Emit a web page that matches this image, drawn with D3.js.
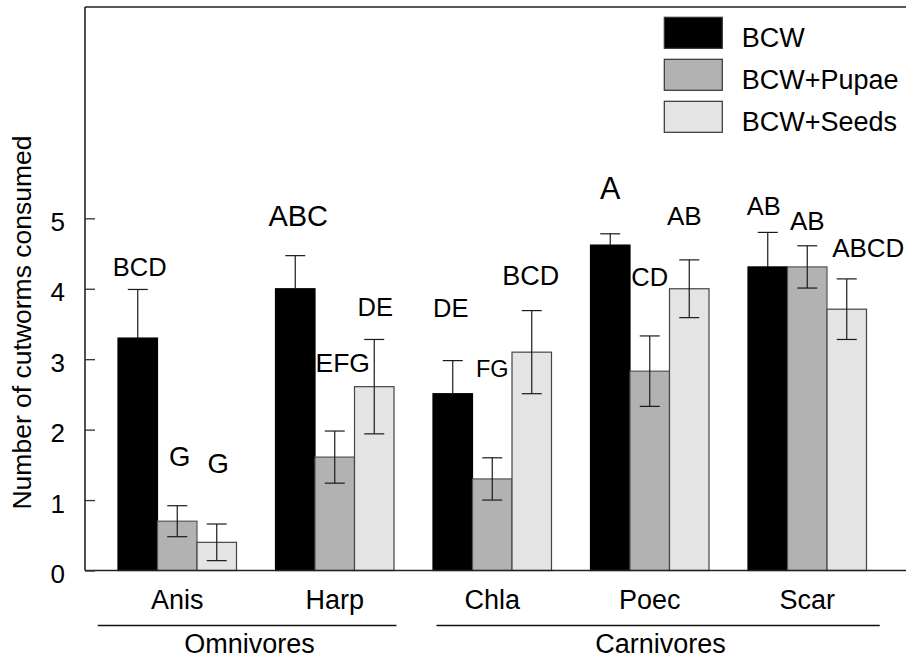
<!DOCTYPE html>
<html>
<head>
<meta charset="utf-8">
<script src="https://cdn.jsdelivr.net/npm/d3@7"></script>
<style>
  html, body { margin: 0; padding: 0; background: #fff; }
  svg text { font-family: "Liberation Sans", Arial, sans-serif; fill: #000; }
</style>
</head>
<body>
<svg id="chart" width="906" height="660"></svg>
<script>
// Predator taxa and feeding groups
const taxa = ["Anis", "Harp", "Chla", "Poec", "Scar"];
const feedingGroups = ["Omnivores", "Carnivores"];
const groupMembers = [["Anis", "Harp"], ["Chla", "Poec", "Scar"]];

// Prey treatments
const treatments = ["BCW", "BCW+Pupae", "BCW+Seeds"];

// Mean cutworms consumed, one array per treatment (order follows taxa)
const bcwMean   = [3.30, 4.00, 2.51, 4.62, 4.31];
const pupaeMean = [0.70, 1.61, 1.30, 2.83, 4.31];
const seedsMean = [0.40, 2.61, 3.10, 4.00, 3.71];

// Standard errors
const bcwErr   = [0.69, 0.47, 0.47, 0.16, 0.49];
const pupaeErr = [0.22, 0.37, 0.30, 0.50, 0.30];
const seedsErr = [0.26, 0.67, 0.59, 0.41, 0.43];

// Mean separation letters
const bcwLetters   = ["BCD", "ABC", "DE", "A", "AB"];
const pupaeLetters = ["G", "EFG", "FG", "CD", "AB"];
const seedsLetters = ["G", "DE", "BCD", "AB", "ABCD"];

// Y axis tick values
const yTicks = [0, 1, 2, 3, 4, 5];

// ---- layout ----
const svg = d3.select("#chart");
const plotLeft = 85, plotTop = 7, plotBottom = 570.5, plotRight = 906;
const labelSize = 27;

const y = d3.scaleLinear().domain([0, 8]).range([plotBottom, plotTop]);

const x = d3.scaleBand()
  .domain(taxa)
  .range([plotLeft, 899.5])
  .paddingInner(0.2476)
  .paddingOuter(0.2095);

const xs = d3.scaleBand()
  .domain(treatments)
  .range([0, x.bandwidth()])
  .padding(0);

const fills = { "BCW": "#000000", "BCW+Pupae": "#b2b2b2", "BCW+Seeds": "#e4e4e4" };
const strokes = { "BCW": "#000000", "BCW+Pupae": "#555555", "BCW+Seeds": "#444444" };

const means = [bcwMean, pupaeMean, seedsMean];
const errs = [bcwErr, pupaeErr, seedsErr];
const letters = [bcwLetters, pupaeLetters, seedsLetters];

// Pixel nudges for the letter labels relative to the top of each error bar
const letterNudge = [
  [[2, -13], [3, -30], [-2, -44], [0, -35], [-4, -17]],
  [[2.5, -40], [8, -59], [0, -81], [0, -50], [0, -16]],
  [[1.5, -51], [1, -23], [-1, -26], [-5, -35], [21.5, -22]]
];
// Font size of each letter label
const letterSize = [
  [25.5, 29, 25.5, 30.5, 25.5],
  [27.5, 26.5, 23.5, 25.5, 26],
  [27.5, 25.5, 27, 26, 26]
];

const rows = [];
treatments.forEach((t, ti) => {
  taxa.forEach((c, ci) => {
    rows.push({
      taxon: c, treatment: t,
      mean: means[ti][ci], err: errs[ti][ci],
      letter: letters[ti][ci], nudge: letterNudge[ti][ci], size: letterSize[ti][ci]
    });
  });
});

// Bars
svg.append("g").selectAll("rect")
  .data(rows)
  .join("rect")
  .attr("x", d => x(d.taxon) + xs(d.treatment))
  .attr("y", d => y(d.mean))
  .attr("width", xs.bandwidth())
  .attr("height", d => y(0) - y(d.mean))
  .attr("fill", d => fills[d.treatment])
  .attr("stroke", d => strokes[d.treatment])
  .attr("stroke-width", 1.2);

// Error bars (the lower whisker of the solid black bars is lost in the fill)
const capHalf = 10;
const eb = svg.append("g")
  .attr("stroke", "#1a1a1a")
  .attr("stroke-width", 1.2)
  .attr("fill", "none");
rows.forEach(d => {
  const cx = x(d.taxon) + xs(d.treatment) + xs.bandwidth() / 2;
  const y1 = y(d.mean + d.err);
  const y2 = d.treatment === "BCW" ? y(d.mean) : y(d.mean - d.err);
  eb.append("line").attr("x1", cx).attr("x2", cx).attr("y1", y1).attr("y2", y2);
  eb.append("line").attr("x1", cx - capHalf).attr("x2", cx + capHalf).attr("y1", y1).attr("y2", y1);
  if (d.treatment !== "BCW") {
    eb.append("line").attr("x1", cx - capHalf).attr("x2", cx + capHalf).attr("y1", y2).attr("y2", y2);
  }
});

// Letters
svg.append("g").selectAll("text")
  .data(rows)
  .join("text")
  .attr("x", d => x(d.taxon) + xs(d.treatment) + xs.bandwidth() / 2 + d.nudge[0])
  .attr("y", d => y(d.mean + d.err) + d.nudge[1])
  .attr("text-anchor", "middle")
  .attr("font-size", d => d.size)
  .text(d => d.letter);

// Frame lines: left axis, top and bottom
const frame = svg.append("g").attr("stroke", "#222").attr("stroke-width", 1.6);
frame.append("line").attr("x1", plotLeft).attr("x2", plotLeft).attr("y1", plotTop).attr("y2", plotBottom);
frame.append("line").attr("x1", plotLeft).attr("x2", plotRight).attr("y1", plotTop).attr("y2", plotTop);
frame.append("line").attr("x1", plotLeft).attr("x2", plotRight).attr("y1", plotBottom).attr("y2", plotBottom);

// Y axis
const yAxis = svg.append("g")
  .attr("transform", `translate(${plotLeft},0)`)
  .call(d3.axisLeft(y).tickValues(yTicks).tickFormat(d3.format("d")).tickSize(-10).tickPadding(20));
yAxis.select(".domain").remove();
yAxis.selectAll(".tick line").attr("stroke", "#333").attr("stroke-width", 1.3);
yAxis.selectAll(".tick text")
  .attr("font-size", 26)
  .attr("font-family", "Liberation Sans, Arial, sans-serif")
  .attr("fill", "#000")
  .attr("dy", "0.46em");

// Y axis title
svg.append("text")
  .attr("transform", "translate(31,322.5) rotate(-90)")
  .attr("text-anchor", "middle")
  .attr("font-size", 26.5)
  .text("Number of cutworms consumed");

// X axis category labels
const xAxis = svg.append("g")
  .attr("transform", `translate(0,${plotBottom})`)
  .call(d3.axisBottom(x).tickSize(0).tickPadding(19));
xAxis.select(".domain").remove();
xAxis.selectAll(".tick text")
  .attr("font-size", labelSize)
  .attr("font-family", "Liberation Sans, Arial, sans-serif")
  .attr("fill", "#000");

// Feeding group brackets
const spanPad = [[-79.5, 61.7], [-55.8, 72.5]];
feedingGroups.forEach((g, gi) => {
  const members = groupMembers[gi];
  const x1 = x(members[0]) + x.bandwidth() / 2 + spanPad[gi][0];
  const x2 = x(members[members.length - 1]) + x.bandwidth() / 2 + spanPad[gi][1];
  svg.append("line")
    .attr("x1", x1).attr("x2", x2)
    .attr("y1", 625.5).attr("y2", 625.5)
    .attr("stroke", "#111").attr("stroke-width", 1.4);
  svg.append("text")
    .attr("x", (x1 + x2) / 2 + 2.5)
    .attr("y", 652.5)
    .attr("text-anchor", "middle")
    .attr("font-size", labelSize)
    .text(g);
});

// Legend
const legend = svg.append("g");
treatments.forEach((t, i) => {
  const ly = 17.3 + i * 42;
  legend.append("rect")
    .attr("x", 664.3).attr("y", ly)
    .attr("width", 58).attr("height", 31)
    .attr("fill", fills[t])
    .attr("stroke", "#333").attr("stroke-width", 1.2);
  legend.append("text")
    .attr("x", 741.7).attr("y", ly + 29.5)
    .attr("font-size", labelSize)
    .text(t);
});
</script>
</body>
</html>
